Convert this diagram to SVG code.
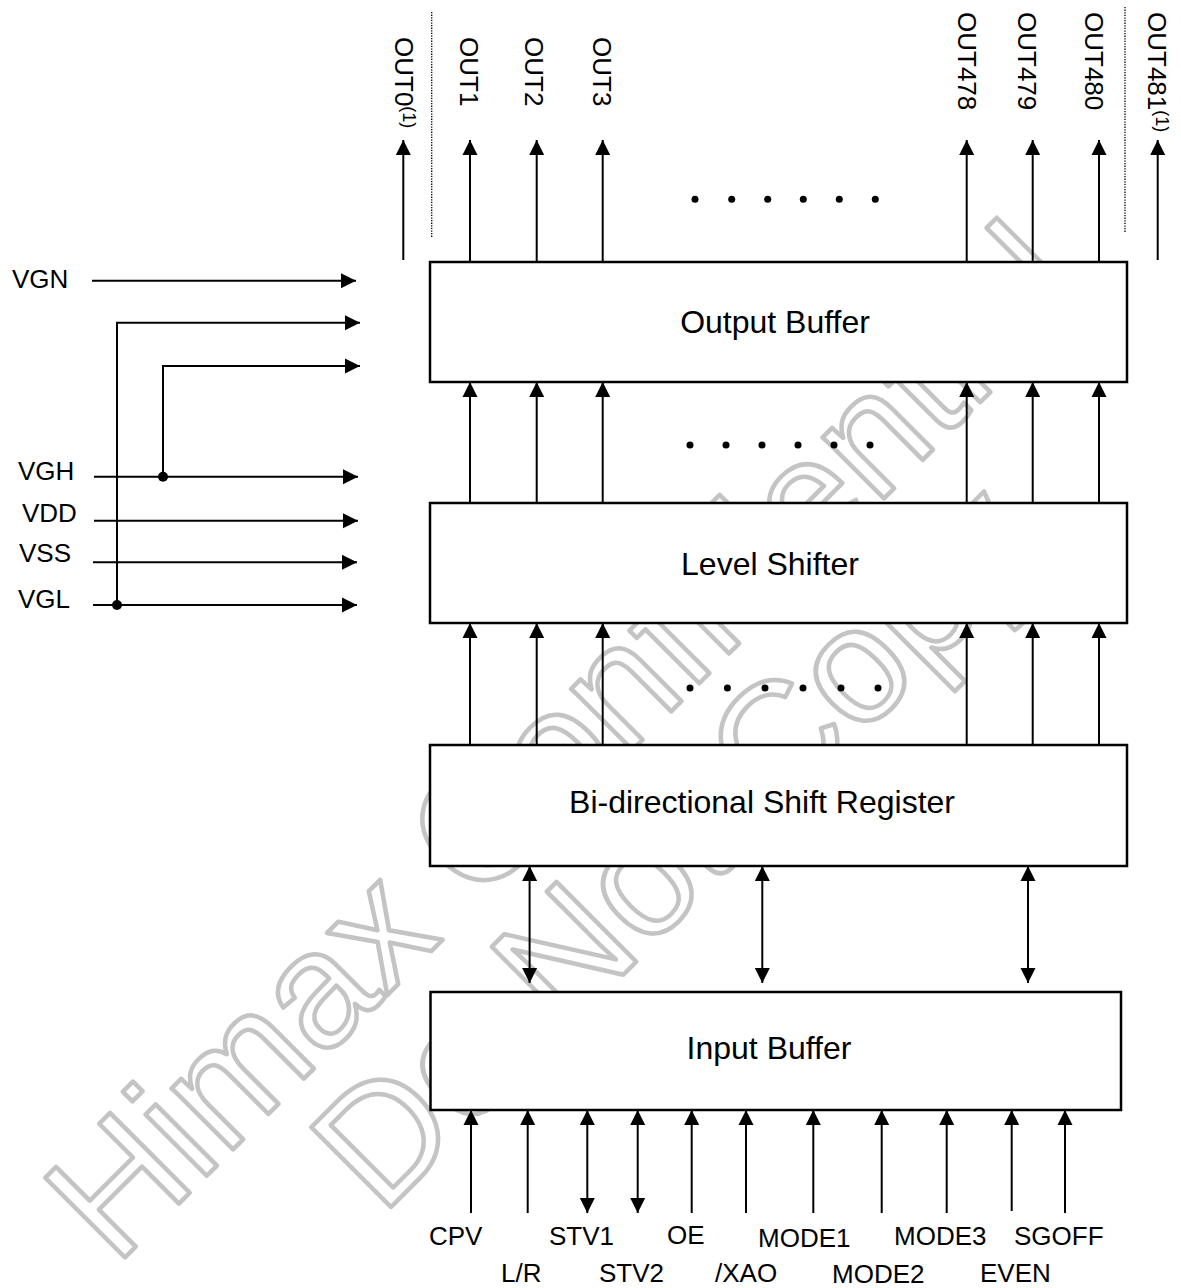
<svg xmlns="http://www.w3.org/2000/svg" width="1181" height="1288" viewBox="0 0 1181 1288">
<style>
  .lbl { font-family: "Liberation Sans", Arial, sans-serif; font-size: 26px; fill: #000; }
  .sup { font-size: 18px; }
  .box { fill: #fff; stroke: #000; stroke-width: 2.5; }
  .boxt { font-family: "Liberation Sans", Arial, sans-serif; font-size: 32px; fill: #000; text-anchor: middle; }
  .arr { fill: none; stroke: #000; stroke-width: 2; marker-end: url(#ah); }
  .bi { fill: none; stroke: #000; stroke-width: 2; marker-end: url(#ah); marker-start: url(#ahs); }
  .dotl { fill: none; stroke: #000; stroke-width: 1.3; stroke-dasharray: 1.3 1.3; }
  .wm { font-family: "Liberation Sans", Arial, sans-serif; font-size: 164px; fill: none; stroke: #c4c4c4; stroke-width: 4.5; stroke-linejoin: round; text-anchor: middle; }
</style>
<defs>
  <marker id="ah" markerUnits="userSpaceOnUse" markerWidth="16" markerHeight="16" viewBox="-15 -8 16 16" refX="0" refY="0" orient="auto">
    <path d="M0,0 L-15,-7.5 L-15,7.5 Z" fill="#000"/>
  </marker>
  <marker id="ahs" markerUnits="userSpaceOnUse" markerWidth="16" markerHeight="16" viewBox="-1 -8 16 16" refX="0" refY="0" orient="auto">
    <path d="M0,0 L15,-7.5 L15,7.5 Z" fill="#000"/>
  </marker>
</defs>
<rect x="0" y="0" width="1181" height="1288" fill="#fff"/>

<g id="watermark">
  <text class="wm" transform="translate(602,780.5) rotate(-45)">Himax Confidential</text>
  <text class="wm" transform="translate(713.5,884.5) rotate(-45)">Do Not Copy</text>
</g>

<g id="connectors">
  <!-- outputs -->
  <path class="arr" d="M403.3,260 V140"/>
  <path class="arr" d="M470,262 V140"/>
  <path class="arr" d="M536.7,262 V140"/>
  <path class="arr" d="M602.7,262 V140"/>
  <path class="arr" d="M966.7,262 V140"/>
  <path class="arr" d="M1032.7,262 V140"/>
  <path class="arr" d="M1099,262 V140"/>
  <path class="arr" d="M1157.7,260 V140"/>
  <path class="dotl" d="M431.7,12 V237"/>
  <path class="dotl" d="M1125,7 V233"/>
  <!-- level shifter to output buffer -->
  <path class="arr" d="M470,503 V382"/>
  <path class="arr" d="M536.7,503 V382"/>
  <path class="arr" d="M602.7,503 V382"/>
  <path class="arr" d="M966.7,503 V382"/>
  <path class="arr" d="M1032.7,503 V382"/>
  <path class="arr" d="M1099,503 V382"/>
  <!-- shift register to level shifter -->
  <path class="arr" d="M470,745 V623"/>
  <path class="arr" d="M536.7,745 V623"/>
  <path class="arr" d="M602.7,745 V623"/>
  <path class="arr" d="M966.7,745 V623"/>
  <path class="arr" d="M1032.7,745 V623"/>
  <path class="arr" d="M1099,745 V623"/>
  <!-- shift register <-> input buffer -->
  <path class="bi" d="M529.6,866 V983"/>
  <path class="bi" d="M762.3,866 V983"/>
  <path class="bi" d="M1028,866 V983"/>
  <!-- inputs -->
  <path class="arr" d="M471,1213 V1110"/>
  <path class="arr" d="M527.7,1213 V1110"/>
  <path class="bi" d="M587.3,1110 V1213"/>
  <path class="bi" d="M637.7,1110 V1213"/>
  <path class="arr" d="M691.7,1213 V1110"/>
  <path class="arr" d="M746,1213 V1110"/>
  <path class="arr" d="M813.3,1213 V1110"/>
  <path class="arr" d="M881.7,1213 V1110"/>
  <path class="arr" d="M946.7,1213 V1110"/>
  <path class="arr" d="M1011.7,1211 V1110"/>
  <path class="arr" d="M1065,1213 V1110"/>
  <!-- power lines -->
  <path class="arr" d="M92,280.7 H356"/>
  <path class="arr" d="M117,605 V322.7 H360"/>
  <path class="arr" d="M163,476.7 V366 H360"/>
  <path class="arr" d="M94,476.7 H358"/>
  <path class="arr" d="M94,520.7 H358"/>
  <path class="arr" d="M93,562.3 H357"/>
  <path class="arr" d="M93,605 H357"/>
  <circle cx="163" cy="476.7" r="5" fill="#000"/>
  <circle cx="117" cy="605" r="5" fill="#000"/>
  <!-- ellipsis dots -->
  <g fill="#000">
    <circle cx="695" cy="199.3" r="3.5"/><circle cx="731.7" cy="199.3" r="3.5"/><circle cx="767.7" cy="199.3" r="3.5"/>
    <circle cx="803.3" cy="199.3" r="3.5"/><circle cx="839.3" cy="199.3" r="3.5"/><circle cx="875.3" cy="199.3" r="3.5"/>
    <circle cx="690" cy="445" r="3.5"/><circle cx="726" cy="445" r="3.5"/><circle cx="762" cy="445" r="3.5"/>
    <circle cx="798" cy="445" r="3.5"/><circle cx="834" cy="445" r="3.5"/><circle cx="870" cy="445" r="3.5"/>
    <circle cx="690" cy="688" r="3.5"/><circle cx="727.4" cy="688" r="3.5"/><circle cx="765" cy="688" r="3.5"/>
    <circle cx="803" cy="688" r="3.5"/><circle cx="841" cy="688" r="3.5"/><circle cx="878" cy="688" r="3.5"/>
  </g>
</g>

<g id="output-buffer">
  <rect class="box" x="430" y="262" width="697" height="120"/>
  <text class="boxt" x="775" y="333">Output Buffer</text>
</g>
<g id="level-shifter">
  <rect class="box" x="430" y="503" width="697" height="120"/>
  <text class="boxt" x="770" y="575">Level Shifter</text>
</g>
<g id="shift-register">
  <rect class="box" x="430" y="745" width="697" height="121"/>
  <text class="boxt" x="762" y="813">Bi-directional Shift Register</text>
</g>
<g id="input-buffer">
  <rect class="box" x="430.5" y="992" width="690.5" height="118"/>
  <text class="boxt" x="769" y="1059">Input Buffer</text>
</g>

<g id="output-labels">
  <text class="lbl" transform="translate(395,37) rotate(90)">OUT0<tspan class="sup" dy="-8">(1)</tspan></text>
  <text class="lbl" transform="translate(460,37) rotate(90)">OUT1</text>
  <text class="lbl" transform="translate(525,37) rotate(90)">OUT2</text>
  <text class="lbl" transform="translate(593,37) rotate(90)">OUT3</text>
  <text class="lbl" transform="translate(958,12) rotate(90)">OUT478</text>
  <text class="lbl" transform="translate(1018,12) rotate(90)">OUT479</text>
  <text class="lbl" transform="translate(1085,12) rotate(90)">OUT480</text>
  <text class="lbl" transform="translate(1148,12) rotate(90)">OUT481<tspan class="sup" dy="-8">(1)</tspan></text>
</g>

<g id="power-labels">
  <text class="lbl" x="12" y="288">VGN</text>
  <text class="lbl" x="18" y="480">VGH</text>
  <text class="lbl" x="22" y="522">VDD</text>
  <text class="lbl" x="19" y="562">VSS</text>
  <text class="lbl" x="18" y="608">VGL</text>
</g>

<g id="input-labels">
  <text class="lbl" x="429" y="1245">CPV</text>
  <text class="lbl" x="501" y="1282">L/R</text>
  <text class="lbl" x="549" y="1245">STV1</text>
  <text class="lbl" x="599" y="1282">STV2</text>
  <text class="lbl" x="667" y="1244">OE</text>
  <text class="lbl" x="715" y="1282">/XAO</text>
  <text class="lbl" x="758" y="1247">MODE1</text>
  <text class="lbl" x="832" y="1283">MODE2</text>
  <text class="lbl" x="894" y="1245">MODE3</text>
  <text class="lbl" x="980" y="1282">EVEN</text>
  <text class="lbl" x="1014" y="1245">SGOFF</text>
</g>
</svg>
